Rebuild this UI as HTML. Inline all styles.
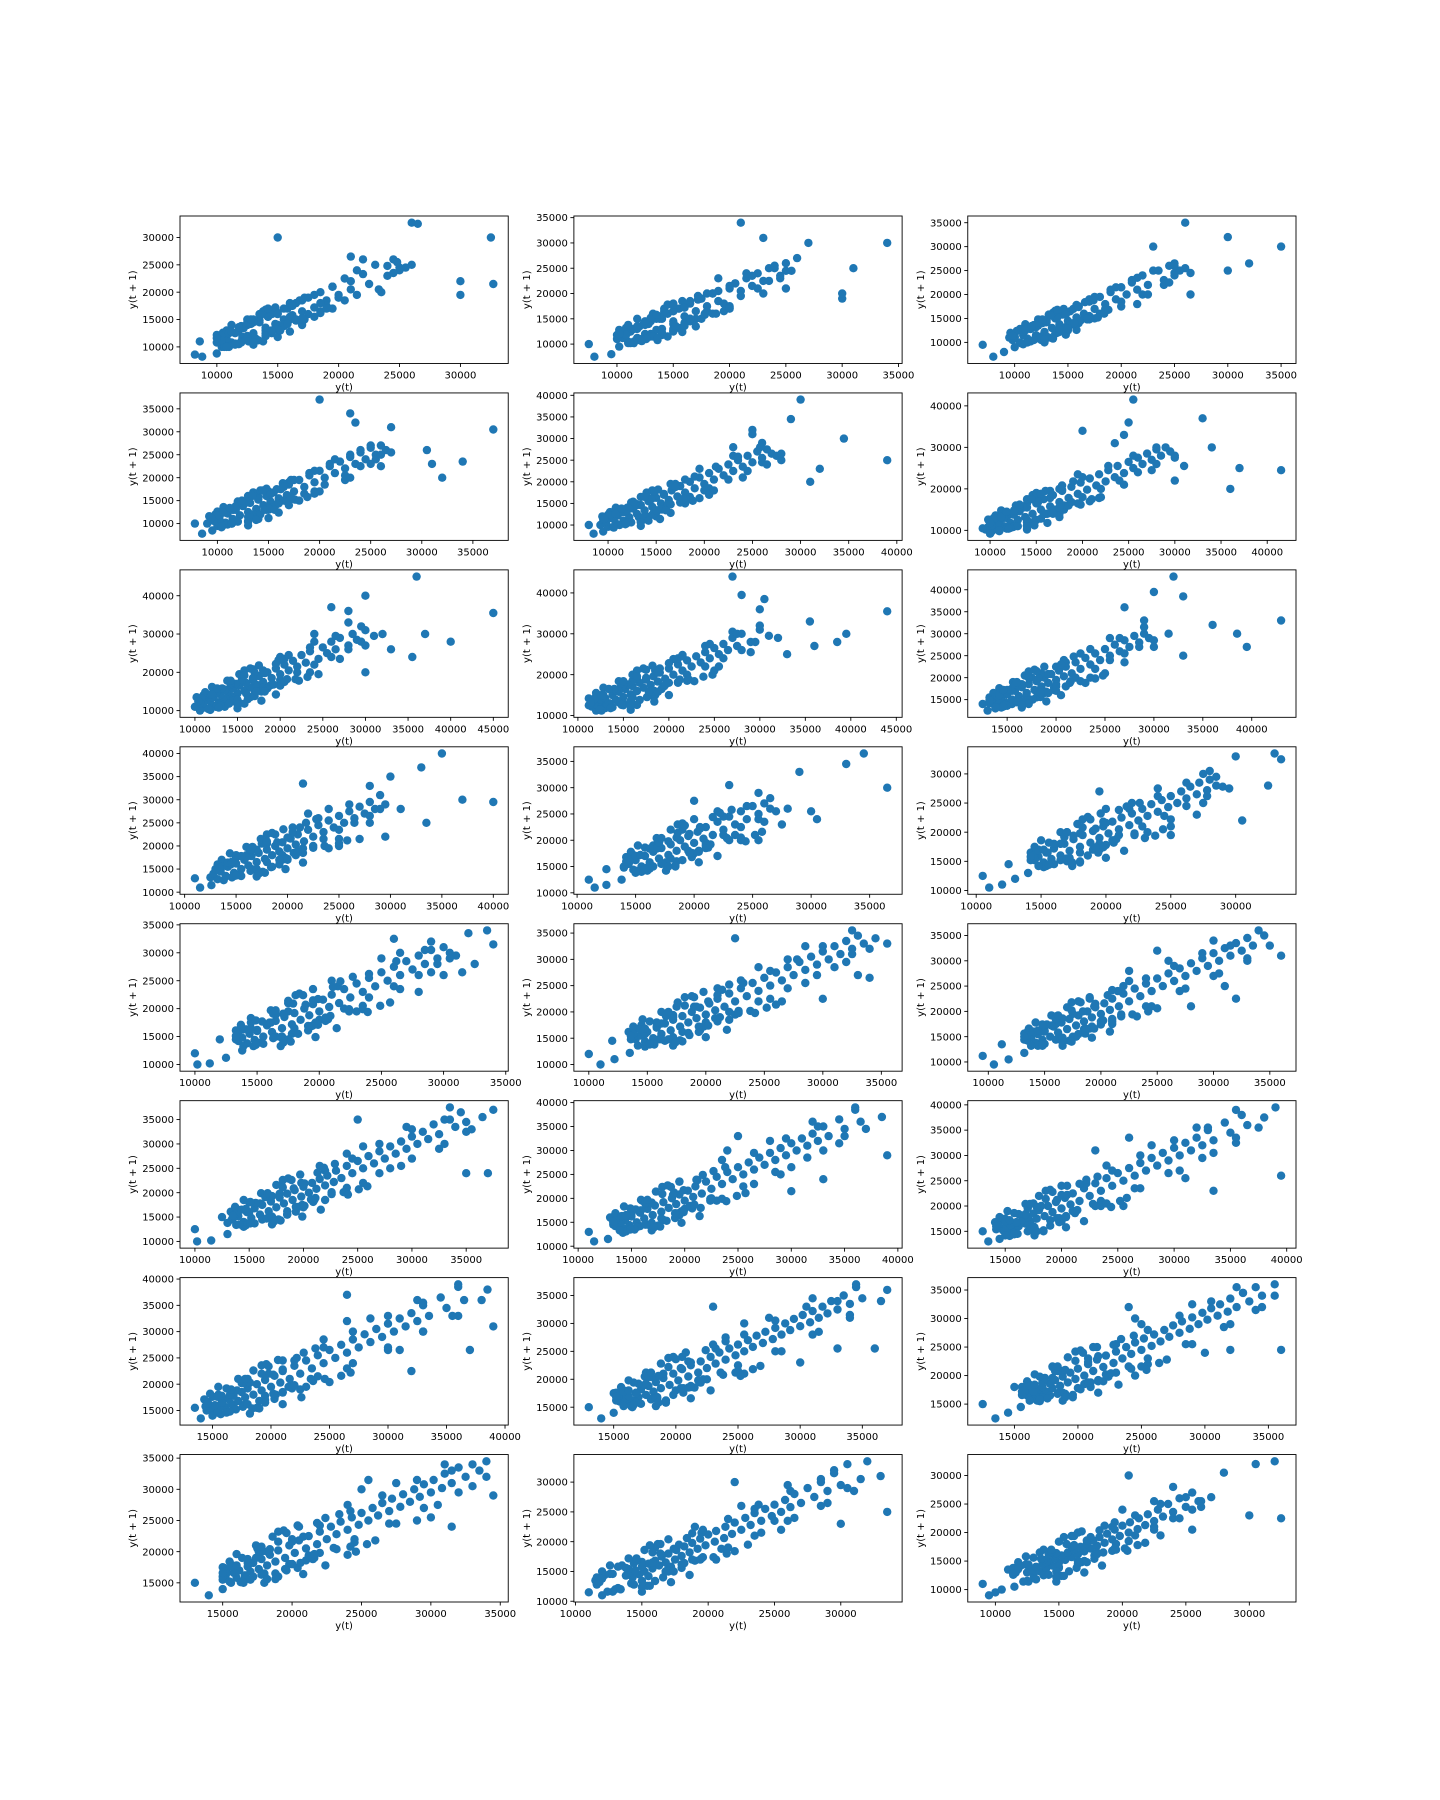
<!DOCTYPE html>
<html><head><meta charset="utf-8"><title>Lag plots</title>
<style>
html,body{margin:0;padding:0;background:#fff;}
svg{display:block;}
text{font-family:"DejaVu Sans","Liberation Sans",sans-serif;font-size:10px;fill:#000;}
</style></head>
<body>
<svg id="fig" width="1440" height="1800" viewBox="0 0 1440 1800" xmlns="http://www.w3.org/2000/svg"></svg>
<script>
// Series values per panel (in hundreds), lag pairs are (s[i], s[i+1])
const series1=[105,112,108,121,118,130,125,140,135,148,142,155,150,162,158,170,165,180,172,190,185,200,195,210,205,225,215,240,230,250,245,260,250,240,248,255,245,235,200,190,175,160,150,140,130,120,110,104,100,108,115,125,120,135,145,160,155,170,185,180,195,210,220,233,205,185,165,150,140,125,115,106,100,88,82,86,110,130,150,300,195,210,265,325,300,220,260,327,215,195,170,140,120];
const series2=[100,110,105,118,112,125,120,135,128,140,150,145,160,155,170,165,180,175,190,185,200,210,205,220,215,230,225,240,250,245,235,225,210,195,180,165,150,140,130,120,110,102,95,80,75,100,118,130,145,160,175,190,205,220,235,250,260,270,300,190,230,310,250,210,340,300,200,170,150,130,115,105,112,125,138,150,165,185,200,215,240,255,245,230,200,175,150,125,110];
const series3=[98,105,100,112,108,120,115,128,122,135,130,142,138,150,145,158,152,165,160,175,170,185,180,195,190,205,200,215,210,225,220,240,230,250,245,260,255,250,240,220,200,185,170,155,140,125,112,100,90,80,70,95,110,125,140,155,170,190,210,230,300,250,260,350,300,320,265,200,215,180,160,140,120,108,115,130,145,160,175,195,215,235,250,265,245,225,200,175,150,125,105];
const series4=[90,100,95,108,102,115,110,122,118,130,125,138,132,145,140,152,148,160,155,168,162,175,170,185,180,195,190,205,200,215,210,225,220,235,230,245,240,255,250,265,260,270,255,240,225,205,185,165,150,135,120,105,95,85,78,100,115,130,150,170,190,210,230,250,270,310,230,340,235,320,200,370,305,260,225,195,170,150,130,115,102,110,125,140,158,175,195,215,240,260,250,230,200,170,140,110];
const series5=[92,100,96,108,104,116,110,122,118,130,126,138,134,146,142,155,150,163,158,172,166,180,175,190,185,200,195,210,205,220,215,230,225,240,235,250,245,260,255,270,265,275,260,245,225,205,185,165,148,132,118,105,95,85,80,100,120,140,165,195,230,260,290,345,300,390,250,320,230,280,250,310,200,180,160,140,120,105,115,130,148,168,190,212,235,258,280,265,240,210,180,150,120];
const series6=[95,102,98,108,104,115,110,122,118,130,125,138,132,146,140,155,150,165,158,175,168,185,178,195,188,205,198,215,208,225,218,235,228,245,238,255,250,265,260,275,270,285,280,295,290,300,280,260,240,220,200,180,160,140,125,110,100,92,105,120,140,165,195,235,310,255,415,245,330,370,250,360,200,340,300,220,180,150,125,108,115,130,150,175,200,228,255,280,300,275,245,210,175,140,112];
const series7=[105,112,108,120,115,128,122,135,130,142,138,150,145,158,152,165,160,172,168,180,175,190,185,200,195,210,205,220,215,230,225,245,235,255,250,265,260,280,270,290,285,300,310,295,280,260,240,220,200,180,160,145,130,118,106,100,110,125,145,170,200,240,280,330,260,370,300,400,280,360,450,355,240,300,200,170,145,125,110,120,135,155,180,205,235,265,295,320,300,270,235,200,165,135,110];
const series8=[115,122,118,128,124,135,130,142,138,150,145,158,152,165,160,172,168,180,175,188,183,196,190,205,200,215,210,225,220,235,230,245,240,255,250,265,260,275,270,290,280,300,310,295,280,260,240,220,200,180,160,145,132,120,112,125,140,160,185,210,240,270,305,385,280,395,300,360,270,440,355,330,250,210,180,150,130,118,128,145,165,190,215,245,275,300,320,290,255,220,185,150,125];
const series9=[135,142,138,148,144,155,150,162,158,170,165,178,172,185,180,192,188,200,195,208,203,216,210,225,220,235,230,245,240,255,250,265,260,275,270,285,280,295,290,300,285,270,255,240,220,200,185,170,158,146,138,130,125,140,155,175,200,225,255,290,330,385,300,395,270,360,320,430,330,250,210,180,155,140,150,165,185,210,235,265,290,315,300,270,235,200,170,148];
const series10=[125,132,128,140,135,148,142,155,150,162,158,170,165,178,172,185,180,192,188,200,195,208,203,216,210,225,220,235,230,245,240,255,250,265,260,275,270,285,280,295,290,280,265,250,235,215,195,180,165,150,138,126,115,110,130,150,175,205,240,280,330,370,300,350,400,295,220,270,215,335,250,200,170,148,135,145,160,180,205,230,260,290,310,280,250,215,185,155,135];
const series11=[140,148,144,155,150,162,158,170,165,178,172,185,180,192,188,200,195,208,203,216,210,225,220,235,230,245,240,255,250,265,260,270,255,240,225,210,195,180,165,150,138,125,115,110,125,145,165,190,220,255,290,330,345,365,300,255,200,275,230,305,240,200,175,155,140,150,165,185,205,225,245,265,280,260,235,210,185,160,142];
const series12=[145,152,148,158,154,165,160,172,168,180,175,188,182,195,190,202,198,210,205,218,212,225,220,232,228,240,235,248,243,255,250,262,258,270,265,278,272,285,280,290,278,262,245,228,210,195,180,165,152,140,130,120,110,105,125,145,170,200,240,275,300,330,335,325,280,305,220,250,195,270,230,190,170,155,165,180,198,218,240,262,285,295,275,250,222,195,170,150];
const series13=[135,142,138,148,144,155,150,162,158,170,165,178,172,185,180,192,188,200,195,208,203,216,210,225,220,235,230,245,240,255,250,265,260,275,270,285,280,295,290,305,300,310,295,280,260,240,220,200,180,165,150,138,125,112,102,100,120,145,175,210,250,290,320,335,340,315,265,300,260,325,280,230,195,170,150,160,175,195,215,240,262,285,305,290,265,235,205,178,155];
const series14=[140,148,144,155,150,162,158,170,165,178,172,185,180,192,188,200,195,208,203,216,210,225,220,235,230,245,240,255,250,265,260,275,270,285,280,295,290,305,300,315,310,325,320,335,330,345,340,320,295,270,245,220,200,180,162,148,135,122,110,100,120,145,175,210,245,285,325,355,330,270,300,225,340,265,220,185,160,148,158,172,190,210,232,255,278,300,325,310,285,255,225,195,165,145];
const series15=[135,142,138,148,144,155,150,162,158,170,165,178,172,185,180,192,188,200,195,208,203,216,210,225,220,235,230,245,240,255,250,265,260,275,270,285,280,295,290,305,300,315,310,325,320,335,330,345,350,330,300,270,240,210,185,165,148,132,118,105,95,112,135,160,190,225,260,300,340,360,310,250,320,225,280,210,175,150,160,175,195,215,240,265,290,315,330,305,275,245,210,180,155];
const series16=[130,138,134,145,140,152,148,160,155,168,162,175,170,182,178,190,185,198,192,205,200,212,208,220,215,228,222,235,230,245,240,255,250,265,260,275,270,285,280,295,290,305,300,315,310,325,320,340,335,350,345,365,355,330,300,270,240,210,185,162,145,130,115,102,100,125,150,180,215,255,295,335,375,370,240,280,250,350,240,200,170,150,160,178,198,220,245,270,300,330,350,325,290,255,220,185,155];
const series17=[135,142,138,148,144,155,150,162,158,170,165,178,172,185,180,192,188,200,195,208,203,216,210,225,220,235,230,245,240,255,250,265,260,275,270,285,280,295,290,305,300,315,310,325,320,335,330,350,345,365,360,385,370,345,315,285,255,225,200,178,158,142,128,115,110,130,160,195,235,280,320,360,390,290,250,330,240,300,215,180,155,140,150,168,190,212,238,265,295,325,350,330,300,265,230,195,165,145];
const series18=[148,152,150,158,155,162,160,168,165,172,170,178,175,185,180,192,188,200,195,208,203,216,210,225,220,235,230,245,240,255,250,265,260,275,270,285,280,295,290,305,300,315,310,325,320,335,330,350,345,365,360,380,375,355,325,295,265,235,210,190,172,158,145,135,130,150,175,205,240,280,320,355,390,395,260,335,230,310,255,200,175,160,168,182,200,222,245,270,300,330,355,335,305,270,235,200,170,150];
const series19=[145,150,148,155,152,160,158,166,163,172,168,178,175,185,180,192,188,200,195,208,203,216,210,225,220,235,230,245,240,255,250,265,260,275,270,285,280,295,290,305,300,315,310,325,320,335,330,350,345,365,360,385,380,360,330,300,270,240,215,195,178,162,150,140,135,155,180,210,245,285,325,360,390,310,265,370,265,320,225,190,168,158,165,180,198,220,245,270,300,330,355,330,300,265,230,195,170,152];
const series20=[155,160,158,165,162,170,168,176,172,182,178,188,184,195,190,202,198,210,205,218,212,225,220,232,228,240,235,248,243,255,250,262,258,270,265,278,272,285,280,292,288,300,295,308,302,315,310,322,318,330,325,340,335,350,345,365,340,310,280,250,225,200,180,165,150,140,130,150,175,205,240,275,310,345,370,360,255,300,230,330,255,210,185,168,175,190,210,232,255,280,305,330,340,315,285,250,215,185,165];
const series21=[160,165,162,170,168,175,172,180,178,186,182,192,188,198,194,205,200,212,208,220,215,228,222,235,230,242,238,250,245,258,252,265,260,272,268,280,275,288,282,295,290,302,298,310,305,318,312,325,320,335,330,345,340,355,340,315,285,255,230,205,185,170,155,145,135,125,150,180,215,250,290,325,355,360,245,300,240,320,245,200,178,165,172,188,208,230,255,280,305,330,345,320,290,255,220,190,168];
const series22=[150,155,152,160,158,166,162,170,168,176,172,182,178,188,184,195,190,202,198,210,205,218,212,225,220,232,228,240,235,248,243,255,250,262,258,270,265,278,272,285,280,292,288,300,295,308,302,315,310,325,320,335,330,340,320,295,270,245,220,198,180,165,150,140,130,150,175,205,240,275,310,340,345,290,250,300,255,315,240,195,172,160,168,182,200,220,242,265,290,315,330,305,275,245,215,188,165];
const series23=[138,143,140,148,145,152,150,158,155,163,160,168,165,175,170,180,176,186,182,192,188,198,194,205,200,212,206,218,213,225,220,232,228,240,235,248,243,255,250,262,258,270,265,280,275,290,285,300,295,315,305,330,310,285,260,235,210,188,170,155,142,130,120,110,115,135,160,190,225,260,295,320,335,250,235,255,220,300,230,195,172,158,165,178,195,215,238,262,285,305,290,265,240,215,190,168,150];
const series24=[125,130,128,135,132,140,137,145,142,150,147,155,152,160,157,165,162,170,167,175,172,180,177,186,182,192,188,198,194,205,200,212,206,218,213,225,220,232,228,240,236,250,245,260,255,270,262,255,240,225,210,195,180,165,150,138,125,115,105,100,95,90,110,135,165,200,240,280,305,320,325,225,255,205,300,230,195,170,150,140,148,160,175,192,210,230,250,262,245,225,205,185,165,145];
// dense-core series per panel (in hundreds)
const core1=[102,118,105,126,110,100,122,134,112,140,120,108,130,145,125,150,135,160,128,142,155,138,165,148,172,150,160,180,155,140,168,185,162,175,190,170,150,132,115,104,120,138,110,125,145,130,104,112,128,150,118,136,158,142,170,152,130,108,100,116];
const core2=[104,120,108,132,115,102,128,140,118,150,126,110,138,155,132,160,142,170,135,150,165,145,178,158,185,160,172,195,165,150,180,200,172,188,160,140,122,106,125,145,115,130,152,136,108,118,135,158,124,142,165,150,178,160,136,112,102,120];
const core3=[98,115,102,124,108,96,120,132,110,138,118,105,128,142,122,148,132,158,126,140,152,136,162,146,170,148,158,178,152,138,166,184,160,174,188,168,148,130,112,100,118,136,108,122,142,128,100,110,126,148,116,134,156,140,168,150,128,106,98,114];
const core4=[94,110,98,120,104,92,116,130,106,136,114,100,126,142,120,148,130,160,124,140,155,135,168,148,176,152,164,188,158,142,172,195,165,180,150,132,114,100,118,138,108,124,146,130,96,106,124,150,112,134,160,144,172,156,130,104,94,112];
const core5=[95,112,100,124,106,94,120,134,108,140,118,102,130,146,124,152,134,165,128,145,160,140,175,152,182,158,170,195,162,146,180,205,170,188,156,136,118,102,122,142,110,128,150,134,98,108,126,154,114,138,165,148,178,160,134,106,96,114];
const core6=[100,118,104,130,110,98,126,140,112,148,122,106,136,155,128,160,140,175,132,152,168,146,185,160,195,165,178,208,170,150,190,218,178,198,162,140,120,104,126,148,112,132,158,140,102,112,132,162,118,145,175,155,188,168,140,110,100,118];
const core7=[106,125,110,140,118,102,135,152,120,162,130,112,148,170,138,178,152,195,142,168,185,158,205,175,218,182,198,232,188,165,210,245,195,222,178,150,128,108,132,158,118,142,172,150,106,120,142,178,126,158,192,168,208,182,150,116,104,124];
const core8=[115,132,120,148,126,112,142,160,128,168,138,120,155,176,145,184,160,200,150,175,192,165,210,182,222,188,205,238,195,172,215,248,200,228,184,158,136,118,140,165,126,150,178,158,114,128,150,184,134,165,196,175,212,188,158,124,114,132];
const core9=[134,148,138,160,144,132,155,170,142,176,150,136,165,184,156,190,168,205,160,182,198,172,214,188,225,192,208,240,198,178,218,248,205,230,188,165,146,134,150,172,140,158,184,165,132,142,160,190,146,172,200,180,215,192,165,138,132,148];
const core10=[134,150,138,164,146,132,160,176,144,184,154,136,170,192,160,198,174,215,164,190,208,180,225,196,236,200,218,250,206,185,228,258,212,240,195,170,150,136,155,178,142,164,192,170,134,146,166,198,150,180,210,188,225,200,172,140,134,152];
const core11=[145,160,148,172,155,142,168,184,152,190,162,146,178,198,168,204,180,220,170,196,212,186,230,200,240,205,222,252,210,190,232,258,216,244,198,176,158,145,162,184,150,170,196,176,142,154,172,204,158,186,214,192,228,204,178,150,142,160];
const core12=[145,158,148,170,154,142,165,180,150,186,160,145,175,194,165,200,178,214,168,192,206,182,222,196,232,200,216,244,205,186,226,250,210,238,194,172,156,144,160,180,148,168,192,174,142,152,170,200,156,182,208,188,222,198,174,148,142,158];
const core13=[135,151,139,163,147,133,161,175,145,183,155,137,171,191,161,197,175,214,165,189,207,181,224,195,235,199,217,249,205,184,227,257,211,239,194,169,149,135,154,177,141,163,191,169,133,145,165,197,149,179,209,187,224,199,171,139,133,151];
const core14=[138,152,140,168,148,134,162,178,146,186,156,138,172,194,162,200,176,218,166,192,210,182,228,198,238,202,220,252,208,188,230,260,214,242,198,172,152,138,158,180,144,166,194,172,136,148,168,200,152,182,212,190,228,202,174,142,136,154];
const core15=[134,148,138,160,144,132,156,172,142,178,150,136,166,186,156,192,170,208,160,184,200,174,218,190,228,194,210,242,200,180,220,250,206,232,190,166,148,134,152,174,140,160,186,166,132,144,162,192,148,174,202,182,218,194,166,138,132,150];
const core16=[136,151,139,166,147,133,161,177,145,185,155,137,171,193,161,199,175,216,165,191,209,181,226,197,237,201,219,251,207,186,229,259,213,241,196,171,151,137,156,179,143,165,193,171,135,147,167,199,151,181,211,189,226,201,173,141,135,153];
const core17=[133,149,137,163,145,131,159,175,143,183,153,135,169,191,159,197,173,214,163,189,207,179,224,195,235,199,217,249,205,184,227,257,211,239,194,169,149,135,154,177,141,163,191,169,133,145,165,197,149,179,209,187,224,199,171,139,133,151];
const core18=[144,158,147,172,154,141,168,184,152,190,161,145,178,198,168,204,180,220,170,196,212,186,230,200,240,205,222,252,210,190,232,258,216,244,198,176,158,144,162,184,150,170,196,176,142,154,172,204,158,186,214,192,228,204,178,150,142,160];
const core19=[146,162,150,176,157,143,171,188,155,195,165,148,182,203,172,210,185,226,175,202,218,192,236,206,246,210,228,260,216,196,238,268,222,250,204,180,162,146,166,190,154,176,202,182,144,158,178,210,162,192,220,198,234,210,184,154,146,164];
const core20=[154,168,158,180,164,152,176,192,162,198,172,156,186,206,176,212,188,228,180,204,220,194,238,208,248,212,230,262,218,198,240,268,224,252,206,184,166,154,170,192,158,178,204,184,152,162,180,212,166,194,222,200,236,212,186,158,152,168];
const core21=[158,172,162,184,168,156,180,196,166,202,176,160,190,210,180,216,192,232,184,208,224,198,242,212,250,216,234,264,222,202,244,270,228,254,210,188,170,158,174,196,162,182,208,188,156,166,184,216,170,198,226,204,240,216,190,162,156,172];
const core22=[153,166,157,178,163,151,174,190,160,196,170,155,184,204,174,210,186,224,178,200,216,190,232,204,242,208,224,254,212,194,234,260,218,246,200,180,164,152,168,188,156,176,200,180,150,160,178,208,164,190,216,196,230,206,182,156,150,166];
const core23=[118,132,122,144,128,116,140,154,126,160,134,120,150,166,140,172,152,186,144,164,180,156,194,170,204,174,188,214,180,162,196,220,184,206,170,150,134,120,138,156,126,146,168,150,116,128,146,172,132,158,182,164,196,174,150,124,116,130];
const core24=[116,130,120,142,126,114,138,152,124,158,132,118,148,164,138,170,150,184,142,162,178,154,192,168,202,172,186,212,178,160,194,218,182,204,168,148,132,118,136,154,124,144,166,148,114,126,144,170,130,156,180,162,194,172,148,122,114,128];
const allSeries=[series1,series2,series3,series4,series5,series6,series7,series8,series9,series10,series11,series12,series13,series14,series15,series16,series17,series18,series19,series20,series21,series22,series23,series24];
const allCores=[core1,core2,core3,core4,core5,core6,core7,core8,core9,core10,core11,core12,core13,core14,core15,core16,core17,core18,core19,core20,core21,core22,core23,core24];
const yTickSteps=[5000,5000,5000,5000,5000,10000,10000,10000,5000,5000,5000,5000,5000,5000,5000,5000,5000,5000,5000,5000,5000,5000,5000,5000];
const xTickSteps=[5000,5000,5000,5000,5000,5000,5000,5000,5000,5000,5000,5000,5000,5000,5000,5000,5000,5000,5000,5000,5000,5000,5000,5000];
const xLabelText="y(t)";
const yLabelText="y(t + 1)";

const NS="http://www.w3.org/2000/svg";
const svg=document.getElementById('fig');
function mk(tag,attrs,parent){const e=document.createElementNS(NS,tag);for(const k in attrs)e.setAttribute(k,attrs[k]);(parent||svg).appendChild(e);return e;}

const L=180,R=1296,T=216,B=1602,cols=3,rows=8;
const W=(R-L)/(cols+(cols-1)*0.2), H=(B-T)/(rows+(rows-1)*0.2);

allSeries.forEach((s,idx)=>{
  const c=idx%cols, r=Math.floor(idx/cols);
  const x0=L+c*W*1.2, y0=T+r*H*1.2;
  const core=allCores[idx];
  const xs=s.slice(0,-1).concat(core.slice(0,-1)).map(v=>v*100);
  const ys=s.slice(1).concat(core.slice(1)).map(v=>v*100);
  const xmin0=Math.min(...xs),xmax0=Math.max(...xs),ymin0=Math.min(...ys),ymax0=Math.max(...ys);
  const xmin=xmin0-(xmax0-xmin0)*0.05,xmax=xmax0+(xmax0-xmin0)*0.05;
  const ymin=ymin0-(ymax0-ymin0)*0.05,ymax=ymax0+(ymax0-ymin0)*0.05;
  const sx=v=>x0+(v-xmin)/(xmax-xmin)*W;
  const sy=v=>y0+H-(v-ymin)/(ymax-ymin)*H;
  const g=mk('g',{});
  
  
  const pts=mk('g',{},g);
  
  
  xs.forEach((xv,i)=>{
    const p=mk('circle',{cx:sx(xv).toFixed(1),cy:sy(ys[i]).toFixed(1),r:4.2,fill:'#1f77b4'},pts);
    
    
  });
  const frame=mk('rect',{x:x0,y:y0,width:W,height:H,fill:'none',stroke:'#000','stroke-width':0.9},g);
  
  
  const xst=xTickSteps[idx];
  for(let t=Math.ceil(xmin/xst)*xst;t<=xmax;t+=xst){
    const px=sx(t);
    mk('line',{x1:px,x2:px,y1:y0+H,y2:y0+H+3.5,stroke:'#000','stroke-width':0.9},g);
    const tl=mk('text',{x:px,y:y0+H+15,'text-anchor':'middle'},g);
    tl.textContent=t;
    
    
  }
  const yst=yTickSteps[idx];
  for(let t=Math.ceil(ymin/yst)*yst;t<=ymax;t+=yst){
    const py=sy(t);
    mk('line',{x1:x0-3.5,x2:x0,y1:py,y2:py,stroke:'#000','stroke-width':0.9},g);
    const tl=mk('text',{x:x0-6,y:py+3.6,'text-anchor':'end'},g);
    tl.textContent=t;
    
    
  }
  const xl=mk('text',{x:x0+W/2,y:y0+H+27,'text-anchor':'middle'},g);
  xl.textContent=xLabelText;
  
  
  const yl=mk('text',{x:0,y:0,'text-anchor':'middle',transform:`translate(${x0-44},${y0+H/2}) rotate(-90)`},g);
  yl.textContent=yLabelText;
  
  
});
</script>
</body></html>
